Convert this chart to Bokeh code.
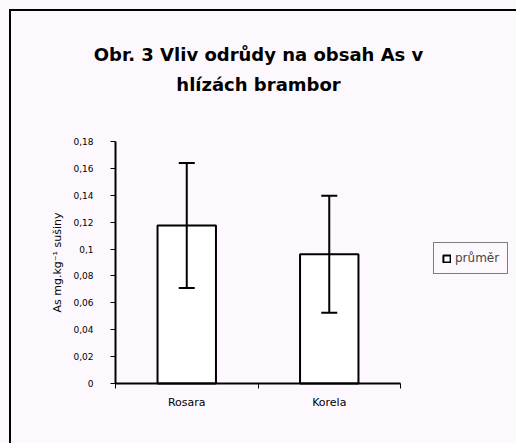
import math
from bokeh.plotting import figure
from bokeh.models import (ColumnDataSource, Whisker, TeeHead, FixedTicker, Label,
                          Legend, LegendItem, Range1d)
from bokeh.embed import file_html
from bokeh.resources import INLINE

# ---- data ----
categories = ["Rosara", "Korela"]
means = [0.1175, 0.0962]
errors = [0.0465, 0.0435]
y_ticks = [0, 0.02, 0.04, 0.06, 0.08, 0.1, 0.12, 0.14, 0.16, 0.18]
y_tick_labels = ["0", "0,02", "0,04", "0,06", "0,08", "0,1", "0,12", "0,14", "0,16", "0,18"]
title_lines = ["Obr. 3 Vliv odrůdy na obsah As v", "hlízách brambor"]
y_label = "As mg.kg\u207b\u00b9 sušiny"
series_name = "průměr"

BG = "#FDF8FD"
FONT = "DejaVu Sans"

# ---- layout (pixels) ----
W, H = 516, 443
AX_L, AX_R, AX_T, AX_B = 115, 400, 141, 383   # where the axes lie
FR_L, FR_R, FR_T, FR_B = 20, 514, 10, 435       # wider frame: room for title, labels, legend

n = len(categories)
xs = [i + 0.5 for i in range(n)]
src = ColumnDataSource(dict(
    x=xs, top=means,
    upper=[m + e for m, e in zip(means, errors)],
    lower=[m - e for m, e in zip(means, errors)],
))

ppx = (AX_R - AX_L) / n
ppy = (AX_B - AX_T) / (y_ticks[-1] - y_ticks[0])
x_start = -(AX_L - FR_L) / ppx
x_end = (FR_R - AX_L) / ppx
y_start = y_ticks[0] - (FR_B - AX_B) / ppy
y_end = y_ticks[0] + (AX_B - FR_T) / ppy

frame_css_bg = ("linear-gradient(black, black) 9px 9px / 2px 100% no-repeat, "
                "linear-gradient(black, black) 9px 9px / 100% 2px no-repeat, " + BG)

p = figure(width=W, height=H, output_backend="svg", toolbar_location=None,
           x_range=Range1d(x_start, x_end), y_range=Range1d(y_start, y_end),
           min_border_left=FR_L, min_border_right=W - FR_R, min_border_top=FR_T,
           min_border_bottom=H - FR_B,
           background_fill_color=BG, background_fill_alpha=0,
           border_fill_color=BG, border_fill_alpha=0, outline_line_color=None,
           styles={"background": frame_css_bg})

bars = p.vbar(x="x", top="top", width=0.41, source=src, fill_color="white",
              line_color="black", line_width=2)

wh = Whisker(base="x", upper="upper", lower="lower", source=src,
             line_color="black", line_width=2, level="overlay",
             upper_head=TeeHead(size=16, line_color="black", line_width=2),
             lower_head=TeeHead(size=16, line_color="black", line_width=2))
p.add_layout(wh)

p.grid.visible = False

# x axis, pinned at y = 0
xa = p.xaxis[0]
xa.fixed_location = y_ticks[0]
xa.bounds = (0, n)
xa.ticker = FixedTicker(ticks=xs, minor_ticks=list(range(0, n + 1)))
xa.major_label_overrides = {x: c for x, c in zip(xs, categories)}
xa.major_tick_out = 0
xa.major_tick_in = 0
xa.minor_tick_out = 5
xa.minor_tick_in = 0
xa.minor_tick_line_width = 1
xa.axis_line_width = 2
xa.major_label_text_font = FONT
xa.major_label_text_font_size = "11px"
xa.major_label_text_color = "black"
xa.major_label_standoff = 7

# y axis, pinned at x = 0
ya = p.yaxis[0]
ya.fixed_location = 0
ya.bounds = (y_ticks[0], y_ticks[-1])
ya.ticker = FixedTicker(ticks=y_ticks)
ya.major_label_overrides = {t: l for t, l in zip(y_ticks, y_tick_labels)}
ya.major_tick_out = 5
ya.major_tick_in = 0
ya.minor_tick_line_color = None
ya.axis_line_width = 2
ya.major_label_text_font = FONT
ya.major_label_text_font_size = "9px"
ya.major_label_text_color = "black"
ya.major_label_standoff = 17

# y axis title (screen units, from the frame's bottom-left, y upward)
p.add_layout(Label(x=57 - FR_L, y=FR_B - (AX_T + AX_B) / 2, x_units="screen", y_units="screen",
                   text=y_label, angle=math.pi / 2, text_align="center", text_baseline="middle",
                   text_font=FONT, text_font_size="11px", text_color="black"))

# chart title
for i, line in enumerate(title_lines):
    p.add_layout(Label(x=258 - FR_L, y=(FR_B - 54) - 30 * i, x_units="screen", y_units="screen",
                       text=line, text_align="center", text_baseline="alphabetic",
                       text_font=FONT, text_font_style="bold", text_font_size="18px",
                       text_color="black"))

legend = Legend(items=[LegendItem(label=series_name, renderers=[bars])],
                location=(433 - FR_L, FR_B - 274), border_line_color="black", border_line_width=1,
                background_fill_color=BG, background_fill_alpha=1,
                label_text_font=FONT, label_text_font_size="12px",
                glyph_width=9, glyph_height=9, padding=8, margin=0, spacing=0,
                label_standoff=4, label_height=12)
p.add_layout(legend)

open("out.html", "w").write(file_html(p, INLINE))
